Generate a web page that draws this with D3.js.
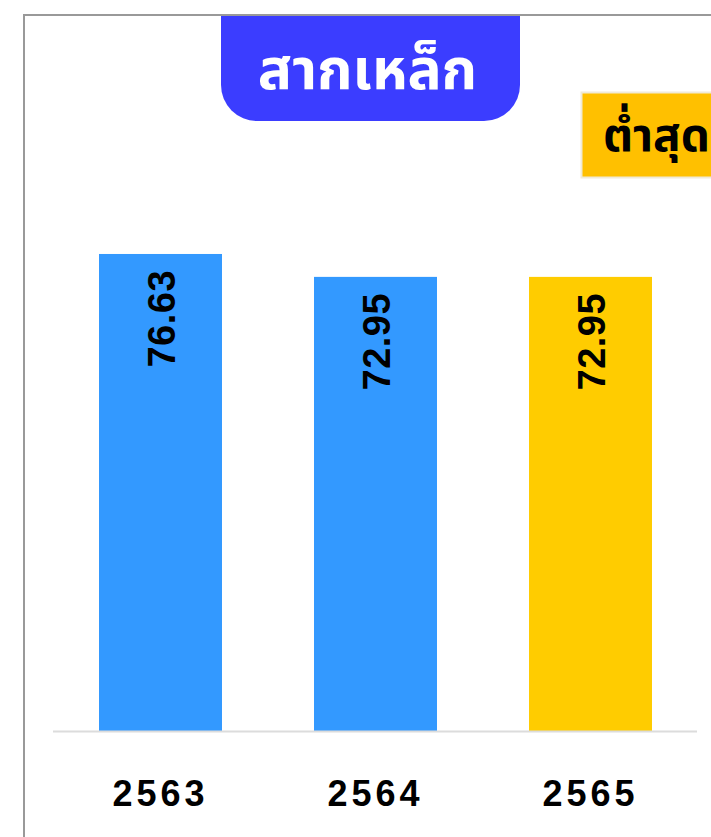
<!DOCTYPE html>
<html><head><meta charset="utf-8">
<script src="https://cdn.jsdelivr.net/npm/d3@7"></script>
<style>body{margin:0;background:#fff;}svg{display:block;}</style>
</head><body>
<script>
const categories = ["2563", "2564", "2565"];
const values = [76.63, 72.95, 72.95];
const valueLabels = ["76.63", "72.95", "72.95"];
const barColors = ["#3399ff", "#3399ff", "#ffcc00"];
const titleText = "สากเหล็ก";
const badgeText = "ต่ำสุด";

const W = 711, H = 837;
const svg = d3.select("body").append("svg").attr("width", W).attr("height", H);

// frame
svg.append("line").attr("x1", 24).attr("x2", W).attr("y1", 15).attr("y2", 15).attr("stroke", "#999").attr("stroke-width", 2);
svg.append("line").attr("x1", 24).attr("x2", 24).attr("y1", 14).attr("y2", H).attr("stroke", "#999").attr("stroke-width", 2);

const x = d3.scaleBand().domain(categories).range([53, 698]).paddingInner(0.428).paddingOuter(0.214);
const y = d3.scaleLinear().domain([0, 80]).range([731, 233]);

svg.selectAll("rect.bar").data(categories).join("rect").attr("class", "bar")
  .attr("x", d => x(d)).attr("width", x.bandwidth())
  .attr("y", (d, i) => y(values[i])).attr("height", (d, i) => y(0) - y(values[i]))
  .attr("fill", (d, i) => barColors[i]);

svg.append("line").attr("x1", 53).attr("x2", 697).attr("y1", 731.5).attr("y2", 731.5).attr("stroke", "#dcdcdc").attr("stroke-width", 2);

svg.selectAll("text.val").data(categories).join("text").attr("class", "val")
  .attr("transform", (d, i) => `translate(${x(d) + x.bandwidth() / 2 + 14},${y(values[i]) + 16}) rotate(-90)`)
  .attr("text-anchor", "end")
  .attr("font-family", "Liberation Sans, Arial, sans-serif").attr("font-weight", "bold").attr("font-size", 38)
  .attr("letter-spacing", 0.5)
  .attr("fill", "#000").text((d, i) => valueLabels[i]);

const xAxis = d3.axisBottom(x).tickSize(0).tickPadding(0);
const gx = svg.append("g").attr("transform", "translate(0,731)").call(xAxis);
gx.select(".domain").remove();
gx.selectAll("text").attr("y", 75).attr("dy", 0).attr("dx", 0)
  .attr("font-family", "Liberation Sans, Arial, sans-serif").attr("font-weight", "bold").attr("font-size", 36)
  .attr("letter-spacing", 4).attr("fill", "#000");

// title badge (rounded bottom corners)
const bx0 = 221, bx1 = 520, by0 = 16, by1 = 121, r = 36;
svg.append("path").attr("d", `M${bx0},${by0} H${bx1} V${by1 - r} A${r},${r} 0 0 1 ${bx1 - r},${by1} H${bx0 + r} A${r},${r} 0 0 1 ${bx0},${by1 - r} Z`)
  .attr("fill", "#3b3dff");
svg.append("text").attr("x", (bx0 + bx1) / 2 - 3).attr("y", 89).attr("text-anchor", "middle")
  .attr("font-family", "Noto Sans Thai, Loma, Kinnari, Noto Sans, sans-serif").attr("font-weight", "bold").attr("font-size", 57)
  .attr("fill", "#fff").text(titleText);

// lowest badge
svg.append("rect").attr("x", 581.5).attr("y", 92.5).attr("width", 140).attr("height", 85)
  .attr("fill", "#ffc000").attr("stroke", "#f0ead8").attr("stroke-width", 2);
svg.append("text").attr("x", 603).attr("y", 151)
  .attr("font-family", "Noto Sans Thai, Loma, Kinnari, Noto Sans, sans-serif").attr("font-weight", "bold").attr("font-size", 46)
  .attr("fill", "#000").text(badgeText);
</script>
</body></html>
